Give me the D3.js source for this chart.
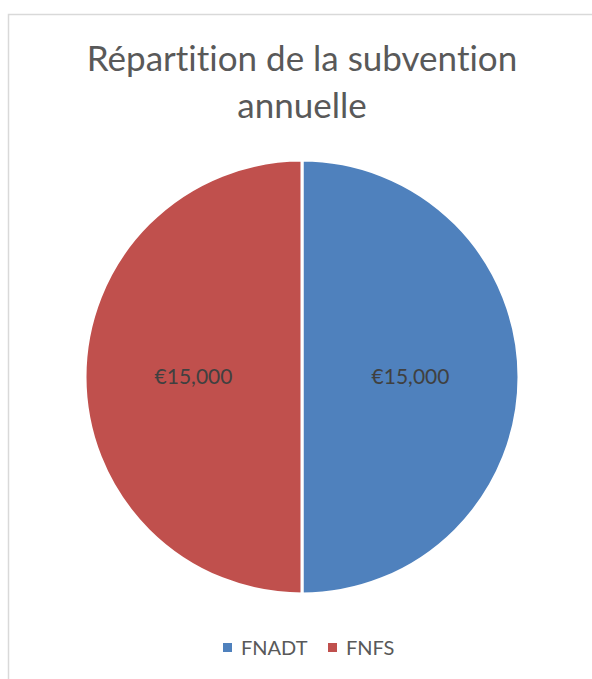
<!DOCTYPE html>
<html>
<head>
<meta charset="utf-8">
<script src="https://cdn.jsdelivr.net/npm/d3@7"></script>
<style>
  body { margin: 0; background: #fff; }
  svg { display: block; }
  text { font-variant-ligatures: none; }
</style>
</head>
<body>
<svg id="chart" width="592" height="679"></svg>
<script>
// chart data
var categories = ["FNADT", "FNFS"];
var values = [15000, 15000];
var colors = ["#4F81BD", "#C0504D"];
var titleLines = ["Répartition de la subvention", "annuelle"];

var svg = d3.select("#chart");
var W = 592, H = 679;
var font = "Lato, 'Open Sans', sans-serif";

// chart area border (cut by the picture on the right and bottom)
svg.append("rect")
    .attr("x", 8.5).attr("y", 14.5)
    .attr("width", W + 20).attr("height", H + 20)
    .attr("fill", "#fff")
    .attr("stroke", "#d9d9d9")
    .attr("stroke-width", 1.5);

// title
svg.append("g").selectAll("text")
    .data(titleLines)
    .enter().append("text")
    .attr("x", 302)
    .attr("y", function (d, i) { return 71 + i * 47; })
    .attr("text-anchor", "middle")
    .attr("fill", "#595959")
    .style("font-family", font)
    .style("font-size", "35px")
    .text(function (d) { return d; });

// pie
var cx = 302, cy = 377, r = 217;
var pie = d3.pie().sort(null).value(function (d) { return d; });
var arc = d3.arc().innerRadius(0).outerRadius(r);
var arcs = pie(values);

var g = svg.append("g").attr("transform", "translate(" + cx + "," + cy + ")");
g.selectAll("path")
    .data(arcs)
    .enter().append("path")
    .attr("d", arc)
    .attr("fill", function (d, i) { return colors[i]; })
    .attr("stroke", "#fff")
    .attr("stroke-width", 3);

var fmt = d3.format(",");
g.selectAll("text.lbl")
    .data(arcs)
    .enter().append("text")
    .attr("class", "lbl")
    .attr("transform", function (d) { return "translate(" + arc.centroid(d) + ")"; })
    .attr("dy", "0.35em")
    .attr("text-anchor", "middle")
    .attr("fill", "#404040")
    .style("font-family", font)
    .style("font-size", "21px")
    .text(function (d) { return "€" + fmt(d.value); });

// legend
var legendX = [223, 328];
var legend = svg.append("g").selectAll("g")
    .data(categories)
    .enter().append("g")
    .attr("transform", function (d, i) { return "translate(" + legendX[i] + ",643)"; });
legend.append("rect")
    .attr("width", 9).attr("height", 9)
    .attr("fill", function (d, i) { return colors[i]; });
legend.append("text")
    .attr("x", 18).attr("y", 12)
    .attr("fill", "#595959")
    .style("font-family", font)
    .style("font-size", "20px")
    .text(function (d) { return d; });
</script>
</body>
</html>
